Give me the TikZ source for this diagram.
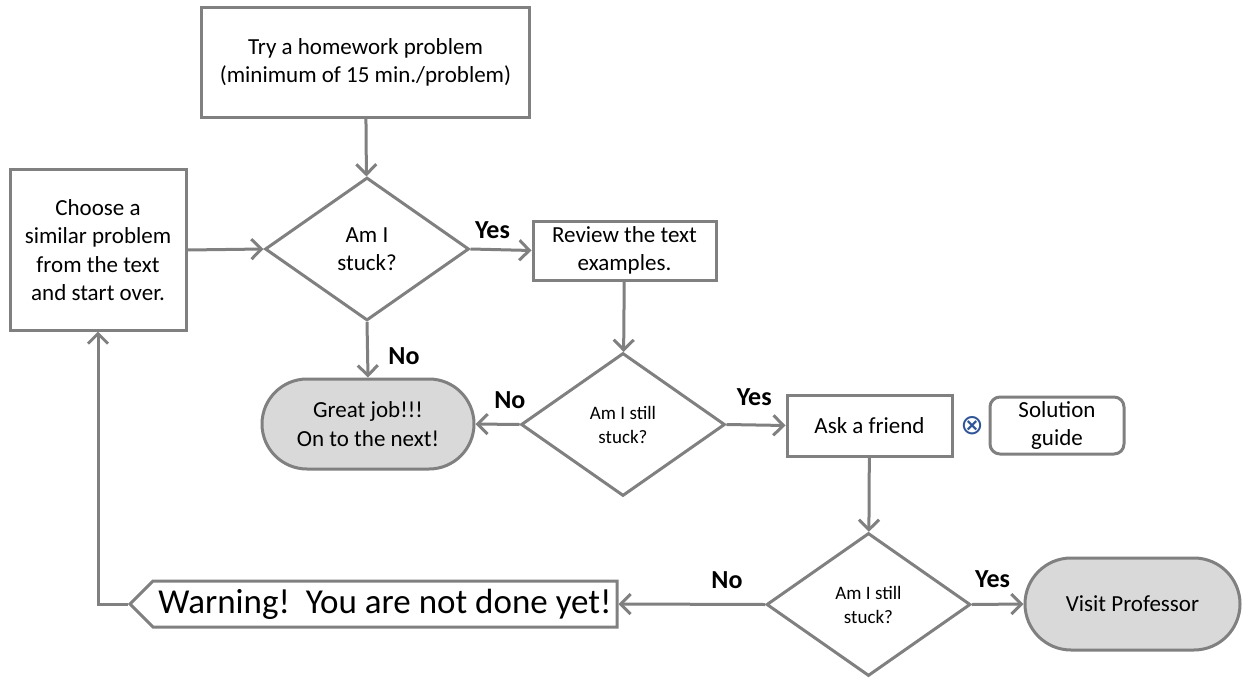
\documentclass[tikz,border=0pt]{standalone}
\usepackage{fontspec}
\setmainfont{Carlito}
\newfontfamily\symfont{DejaVu Sans}
\usetikzlibrary{arrows.meta}
\usetikzlibrary{shapes.geometric, shapes.symbols}
\definecolor{qgray}{RGB}{128,128,128}
\definecolor{qfill}{RGB}{217,217,217}
\definecolor{qblue}{RGB}{47,85,151}

\begin{document}
\begin{tikzpicture}[x=1pt, y=-1pt,
  every node/.style={font=\fontsize{23}{28.5}\selectfont, align=center, text=black},
  flow/.style={draw=qgray, line width=3pt, -{Straight Barb[length=10pt,width=20pt,line width=3pt]}},
  procbox/.style={draw=qgray, line width=3pt, fill=white, rectangle, inner sep=0pt},
  decide/.style={draw=qgray, line width=3pt, fill=white, diamond, inner sep=0pt, minimum width=204pt, minimum height=143pt},
  finish/.style={draw=qgray, line width=3pt, fill=qfill, rectangle, inner sep=0pt},
  lbl/.style={font=\fontsize{26}{30}\bfseries\selectfont}]

\useasboundingbox (0,0) rectangle (1244,679);

% boxes
\node[procbox, minimum width=328pt, minimum height=110pt] (try) at (365.5,62.5) {Try a homework problem\\(minimum of 15 min./problem)};
\node[procbox, minimum width=176pt, minimum height=160pt] (choose) at (98,250) {Choose a\\similar problem\\from the text\\and start over.};
\node[decide] (stuck) at (367,249) {Am I\\stuck?};
\node[procbox, minimum width=183pt, minimum height=59pt] (review) at (624.5,250.5) {Review the text\\examples.};
\node[decide, font=\fontsize{19}{24}\selectfont] (still) at (623,424.5) {Am I still\\stuck?};
\node[finish, rounded corners=45pt, minimum width=212pt, minimum height=90pt] (great) at (368,424) {Great job!!!\\On to the next!};
\node[procbox, minimum width=165pt, minimum height=61pt] (friend) at (869.5,425.5) {Ask a friend};
\node[text=qblue, font=\symfont\fontsize{28}{32}\selectfont] (or) at (972,426) {⊗};
\node[procbox, rounded corners=10pt, minimum width=134pt, minimum height=57pt] (guide) at (1057,425.5) {Solution\\guide};
\node[decide, font=\fontsize{19}{24}\selectfont] (again) at (868.5,604.5) {Am I still\\stuck?};
\node[finish, rounded corners=46pt, minimum width=215pt, minimum height=92pt] (prof) at (1132.5,604) {Visit Professor};
\node[draw=qgray, line width=3pt, fill=white, signal, signal to=west, signal from=nowhere, signal pointer angle=90,
  inner sep=0pt, minimum width=487pt, minimum height=46pt, font=\fontsize{35}{40}\selectfont] (warn) at (385,604) {Warning!\ \ You are not done yet!};

% connectors
\draw[flow] (try) -- (stuck);
\draw[flow] (choose.east) -- (stuck.west);
\draw[flow] (stuck.east) -- (review.west) node[lbl, pos=0.36, above=6pt] {Yes};
\draw[flow] (stuck.south) -- (great.north) node[lbl, pos=0.62, right=16pt] {No};
\draw[flow] (review) -- (still);
\draw[flow] (still.west) -- (great.east) node[lbl, pos=0.22, above=11pt] {No};
\draw[flow] (still.east) -- (friend.west) node[lbl, pos=0.47, above=14pt] {Yes};
\draw[flow] (friend) -- (again);
\draw[flow] (again.east) -- (prof.west) node[lbl, pos=0.4, above=12pt] {Yes};
\draw[flow] (again.west) -- (warn.east) node[lbl, pos=0.26, above=11pt] {No};
\draw[flow] (warn.west) -| (choose.south);

\end{tikzpicture}
\end{document}
